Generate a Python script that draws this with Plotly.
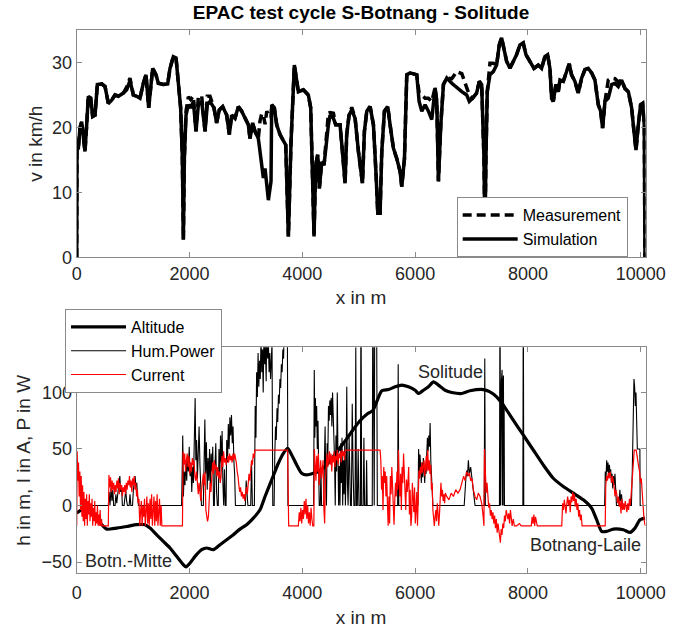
import plotly.graph_objects as go

# ---------------- top panel: speed ----------------
dist_v = [0, 5, 29, 58, 88, 118, 147, 177, 206, 248, 283, 325, 366, 443, 502, 561, 620, 679, 738, 827,
          886, 945, 1004, 1063, 1122, 1181, 1229, 1276, 1300, 1347, 1406, 1447, 1536, 1613, 1654, 1713,
          1761, 1802, 1843, 1873, 1891, 1909, 1938, 1980, 2021, 2068, 2115, 2157, 2216, 2275, 2316, 2363,
          2434, 2481, 2529, 2588, 2659, 2706, 2747, 2806, 2866, 2925, 2984, 3043, 3073, 3120, 3161, 3220,
          3250, 3280, 3309, 3339, 3370, 3398, 3445, 3457, 3504, 3546, 3605, 3664, 3706, 3753, 3800, 3859,
          3900, 3930, 4019, 4107, 4149, 4208, 4237, 4273, 4302, 4344, 4385, 4421, 4462, 4492, 4551, 4592,
          4669, 4711, 4758, 4787, 4829, 4877, 4936, 4995, 5066, 5101, 5143, 5202, 5261, 5308, 5338, 5379,
          5409, 5456, 5515, 5556, 5615, 5674, 5734, 5763, 5811, 5852, 5911, 6029, 6071, 6118, 6177, 6236,
          6295, 6354, 6384, 6413, 6455, 6502, 6561, 6650, 6738, 6827, 6914, 6961, 7020, 7091, 7138, 7180,
          7221, 7238, 7255, 7279, 7327, 7386, 7445, 7492, 7533, 7575, 7622, 7681, 7740, 7799, 7858, 7917,
          7965, 8036, 8107, 8183, 8242, 8301, 8349, 8390, 8420, 8449, 8496, 8538, 8568, 8627, 8686, 8733,
          8774, 8833, 8892, 8952, 9011, 9070, 9129, 9188, 9247, 9289, 9324, 9366, 9425, 9484, 9543, 9602,
          9661, 9720, 9780, 9839, 9880, 9916, 9957, 9998, 10034, 10063, 10075]

v_sim = [0, 16.5, 16.8, 19.9, 20.9, 18.9, 16.3, 20.4, 24.8, 24.5, 21.7, 21.9, 26.6, 26.7, 26.3, 23.7, 24.2, 25.0, 24.8, 25.3,
         25.8, 27.2, 25.0, 24.8, 24.5, 26.8, 28.1, 23.0, 25.5, 29.1, 28.1, 26.8, 26.6, 26.7, 29.1, 30.9,
         30.7, 26.6, 23.0, 15.3, 2.7, 15.3, 21.9, 23.5, 23.0, 24.0, 19.4, 23.5, 24.0, 19.4, 23.5, 24.0,
         23.0, 20.7, 22.7, 23.2, 21.9, 18.9, 21.9, 21.4, 23.2, 22.5, 21.4, 20.4, 18.3, 20.7, 19.4, 18.3,
         16.3, 13.7, 12.2, 13.7, 11.5, 8.8, 11.7, 23.5, 23.0, 20.4, 18.9, 17.8, 17.3, 3.2, 17.8, 29.6,
         27.6, 25.5, 25.8, 25.0, 23.0, 3.2, 14.2, 15.8, 10.6, 14.7, 14.2, 17.8, 20.4, 21.9, 21.4, 20.4,
         20.4, 16.3, 11.4, 18.9, 21.9, 22.7, 21.4, 16.3, 11.4, 19.4, 22.5, 23.2, 20.4, 12.7, 6.8, 6.8,
         16.3, 22.5, 23.2, 20.4, 16.8, 15.2, 13.2, 10.9, 15.2, 28.1, 28.4, 28.1, 24.0, 22.5, 23.5, 22.5,
         21.2, 26.1, 24.0, 11.7, 20.4, 26.6, 27.6, 26.8, 26.1, 25.5, 25.0, 24.0, 24.5, 25.3, 27.1, 26.6,
         15.2, 3.0, 15.0, 25.5, 28.1, 28.6, 29.6, 32.7, 33.8, 32.0, 30.2, 29.1, 30.2, 31.2, 32.7, 33.0,
         31.2, 30.2, 29.1, 29.6, 29.1, 30.9, 31.2, 29.1, 24.5, 24.0, 26.6, 25.5, 27.3, 27.1, 28.6, 29.8,
         28.1, 27.1, 25.3, 27.6, 28.9, 29.1, 28.4, 27.3, 23.5, 22.5, 19.9, 24.0, 24.5, 26.6, 26.8, 26.3,
         27.3, 26.0, 25.5, 23.0, 19.4, 16.5, 20.4, 23.5, 23.7, 20.4, 0]

v_meas = [0, 16.5, 16.8, 19.9, 20.9, 18.9, 16.3, 20.4, 24.8, 24.5, 21.7, 21.9, 26.6, 26.7, 26.3, 23.7, 24.2, 25.0, 24.8, 25.3,
          26.2, 27.6, 25.0, 24.8, 24.5, 26.8, 28.1, 23.0, 25.5, 29.1, 28.1, 26.8, 26.6, 26.7, 29.1, 30.9,
          30.7, 26.6, 23.0, 15.3, 2.7, 15.3, 22.5, 24.7, 24.3, 24.8, 19.4, 24.8, 24.8, 19.4, 24.8, 24.8,
          23.0, 20.7, 22.7, 23.2, 21.9, 18.9, 21.9, 21.4, 23.2, 22.5, 21.4, 20.4, 18.3, 20.7, 19.4, 18.3,
          21.0, 22.1, 22.0, 20.5, 22.5, 22.0, 21.5, 23.5, 23.0, 20.4, 18.9, 17.8, 17.3, 3.2, 17.8, 29.6,
          27.6, 25.5, 25.8, 25.0, 23.0, 3.2, 14.2, 15.8, 10.6, 14.7, 14.2, 17.8, 22.2, 22.3, 22.2, 20.4,
          20.4, 16.3, 11.4, 18.9, 21.9, 23.1, 21.4, 16.3, 11.4, 19.4, 22.5, 23.2, 20.4, 12.7, 6.8, 6.8,
          16.3, 22.5, 23.2, 20.4, 16.8, 15.2, 13.2, 10.9, 15.2, 28.1, 28.4, 28.1, 25.3, 25.0, 24.5, 24.5,
          24.0, 26.1, 24.0, 11.7, 20.4, 26.6, 27.6, 27.5, 28.6, 28.3, 26.0, 25.0, 24.5, 25.3, 27.1, 26.6,
          15.2, 3.0, 15.0, 25.5, 29.9, 29.9, 29.6, 32.7, 33.8, 32.0, 30.2, 29.1, 30.2, 31.2, 32.7, 33.0,
          31.2, 30.2, 29.1, 29.6, 29.1, 30.9, 31.2, 29.1, 24.5, 24.0, 26.6, 25.5, 27.3, 27.1, 28.6, 29.8,
          28.1, 27.1, 25.3, 27.6, 28.9, 29.1, 28.4, 27.3, 23.5, 22.5, 19.9, 24.0, 27.3, 27.6, 27.5, 27.0,
          27.3, 26.0, 25.5, 23.0, 19.4, 16.5, 20.4, 23.5, 23.7, 20.4, 0]

# ---------------- bottom panel ----------------
dist_h = [0, 88, 177, 266, 355, 443, 532, 709, 886, 1063, 1211, 1300, 1418, 1536, 1654, 1772, 1891, 1938,
          2009, 2098, 2216, 2305, 2423, 2541, 2659, 2777, 2895, 3013, 3132, 3250, 3339, 3457, 3575, 3664,
          3741, 3812, 3900, 3989, 4078, 4196, 4300, 4391, 4500, 4620, 4773, 4900, 5023, 5150, 5250, 5320,
          5409, 5527, 5645, 5763, 5882, 6000, 6059, 6147, 6236, 6325, 6413, 6532, 6650, 6827, 6973, 7209,
          7327, 7445, 7563, 7740, 7917, 8095, 8272, 8449, 8627, 8804, 8982, 9129, 9218, 9307, 9396, 9514,
          9692, 9810, 9898, 9987, 10076]
altitude = [-6.7, -3.9, -4.4, -6.7, -12.6, -17.0, -20.9, -20.0, -18.6, -17.0, -17.0, -20.0, -25.9, -31.8,
            -37.6, -45.0, -52.4, -54.4, -50.9, -45.0, -39.1, -37.6, -39.1, -34.7, -30.3, -25.9, -20.9,
            -17.0, -11.2, -3.8, 8.0, 22.7, 37.4, 46.2, 50.6, 44.7, 35.9, 28.5, 27.1, 28.5, 30.5, 34.0,
            40.0, 48.0, 58.0, 67.0, 75.0, 81.0, 84.0, 92.0, 101.5, 102.6, 105.0, 106.5, 105.0, 102.0,
            99.1, 102.0, 105.0, 109.4, 106.5, 102.0, 100.0, 99.1, 101.5, 102.6, 100.6, 96.2, 88.8, 75.6,
            62.4, 49.1, 35.9, 24.1, 16.8, 10.9, 5.0, -2.3, -12.6, -22.9, -22.9, -20.9, -21.5, -23.8,
            -20.0, -12.6, -11.2]

dist_p = [0, 560, 575, 590, 610, 625, 640, 655, 680, 695, 710, 730, 750, 765, 780, 795, 810, 840, 855, 870,
          885, 900, 930, 945, 960, 990, 1005, 1020, 1035, 1050, 1065, 1080, 1095,
          1860, 1880, 1892, 1905, 1920, 1935, 1950, 1965, 1980, 1995, 2010, 2025, 2040, 2055, 2070, 2085,
          2100, 2112, 2125, 2140, 2155, 2170, 2185, 2200, 2212, 2245, 2258, 2272, 2286, 2300, 2314, 2328,
          2342, 2356, 2370, 2384, 2398, 2412, 2426, 2440, 2452, 2466, 2480, 2494, 2510, 2522, 2536, 2550,
          2564, 2578, 2592, 2606, 2620, 2634, 2648, 2660, 2674, 2688, 2702, 2716, 2730, 2744, 2758, 2772,
          2786, 2800, 2814, 2990, 3005, 3020, 3035, 3085, 3100, 3115, 3150, 3165, 3178, 3190, 3203, 3216,
          3229, 3242, 3255, 3268, 3281, 3294, 3307, 3320, 3333, 3346, 3359, 3372, 3385, 3398, 3411, 3424,
          3437, 3450, 3463, 3476, 3500, 3512, 3525, 3538, 3551, 3564, 3577, 3590, 3603, 3616, 3629, 3642,
          3655, 3668, 3681, 3694, 3707, 3720, 3735, 3745,
          4200, 4212, 4222, 4232, 4242, 4254, 4266, 4278, 4290, 4300, 4318, 4330, 4342, 4380, 4392, 4404,
          4416, 4428, 4440, 4452, 4464, 4476, 4488, 4500, 4512, 4524, 4536, 4548, 4560, 4572, 4584, 4596,
          4608, 4620, 4632, 4644, 4656, 4668, 4680, 4692, 4704, 4716, 4728, 4740, 4752, 4764, 4776, 4788,
          4800, 4812, 4830, 4842, 4854, 4870, 4885, 4900, 4915, 4935, 4948, 4960, 4975, 4990, 5005, 5030,
          5040, 5052, 5080, 5092, 5104, 5130, 5140, 5150, 5240, 5250, 5262, 5275, 5285, 5300, 5315, 5330,
          5690, 5700, 5710,
          6050, 6062, 6074, 6086, 6098, 6110, 6122, 6134, 6146, 6158, 6170, 6182, 6194, 6206, 6218, 6230,
          6242, 6254, 6266, 6278, 6290, 6302, 6315,
          6870, 6885, 6900, 6914, 6929, 6944, 6962, 6985, 7009, 7032, 7062,
          7225, 7235, 7245,
          7495, 7505, 7515, 7530, 7536, 7542, 7548, 7554, 7560, 7566, 7572, 7578, 7584,
          7910, 7918, 7926,
          9360, 9372, 9384, 9396, 9408, 9420, 9432, 9444, 9456, 9468, 9480, 9492, 9504, 9516, 9528, 9543,
          9556, 9570, 9615, 9630, 9645, 9660, 9675,
          9835, 9850, 9865, 9880, 9892, 9904, 9916, 9928, 9940, 9985, 9990, 10085]
hum_power = [0, 0, 12, 0, 16, 4, 14, 0, 0, 10, 2, 15, 20, 26, 12, 18, 0, 0, 9, 14,
             4, 0, 0, 10, 0, 0, 14, 22, 26, 16, 20, 8, 0,
             0, 62, 8, 30, 18, 40, 22, 44, 30, 52, 26, 38, 12, 34, 20, 48,
             95, 40, 58, 24, 48, 70, 36, 20, 0, 0, 48, 76, 28, 56, 14, 42,
             22, 50, 18, 46, 30, 52, 0, 0, 36, 55, 12, 0, 0, 50, 24, 62,
             38, 66, 20, 0, 32, 0, 0, 58, 38, 72, 50, 78, 62, 80, 55, 70,
             40, 28, 0, 0, 22, 8, 0, 0, 38, 0, 0, 88, 60, 118, 96, 135,
             105, 128, 112, 150, 118, 138, 100, 160, 125, 142, 110, 170, 130, 146, 118, 135,
             112, 128, 145, 0, 0, 45, 70, 58, 86, 74, 98, 90, 112, 104, 125, 118,
             138, 130, 160, 145, 200, 150, 160, 0,
             0, 120, 60, 95, 70, 88, 50, 75, 20, 0, 0, 30, 0, 0, 40, 70,
             20, 0, 55, 40, 88, 75, 93, 80, 95, 70, 100, 85, 60, 40, 0, 62,
             30, 100, 45, 0, 35, 0, 55, 20, 60, 0, 40, 10, 55, 0, 30, 105,
             20, 0, 60, 10, 0, 0, 90, 30, 0, 0, 140, 0, 0, 50, 0, 0,
             200, 0, 0, 60, 0, 0, 40, 0, 0, 200, 0, 0, 200, 160, 200, 0,
             0, 125, 0,
             0, 50, 30, 45, 35, 20, 38, 25, 42, 30, 20, 35, 28, 45, 60, 48,
             62, 52, 73, 40, 30, 15, 0,
             0, 17, 24, 31, 26, 40, 28, 34, 23, 11, 0,
             0, 130, 0,
             0, 200, 0, 110, 0, 120, 0, 105, 0, 115, 0, 90, 0,
             0, 200, 0,
             0, 30, 22, 40, 30, 38, 25, 36, 28, 32, 20, 28, 15, 26, 18, 28,
             12, 0, 0, 14, 4, 10, 0,
             0, 30, 80, 112, 105, 88, 100, 60, 50, 50, 0, 0]

dist_i = [0, 8, 20, 32, 44, 56, 68, 80, 92, 104, 116, 128, 140, 152, 164, 176, 188, 200, 212, 224, 236, 248,
          260, 272, 284, 296, 308, 320, 332, 344, 356, 368, 380, 392, 404, 416, 428, 440, 452, 560, 572, 586,
          600, 614, 628, 642, 656, 670, 684, 698, 712, 726, 740, 754, 768, 782, 796, 810, 824, 838, 852, 866,
          880, 894, 908, 922, 936, 950, 964, 978, 992, 1006, 1020, 1034, 1048, 1062, 1076, 1090, 1104, 1118,
          1132, 1146, 1160, 1174, 1188, 1202, 1216, 1230, 1244, 1258, 1272, 1286, 1300, 1314, 1328, 1342,
          1356, 1370, 1384, 1398, 1412, 1426, 1440, 1454, 1468, 1482, 1496, 1510, 1875,
          1885, 1900, 1915, 1930, 1945, 1960, 1975, 1990, 2005, 2020, 2035, 2050, 2065, 2080, 2095, 2110,
          2125, 2140, 2155, 2170, 2185, 2200, 2215, 2230, 2245, 2260, 2275, 2290, 2305, 2320, 2335, 2350,
          2365, 2380, 2395, 2410, 2425, 2440, 2455, 2470, 2485, 2500, 2515, 2530, 2545, 2560, 2575, 2590,
          2605, 2620, 2635, 2650, 2665, 2680, 2695, 2710, 2725, 2740, 2755, 2770, 2785, 2800, 2815, 2830,
          2845, 2860, 2875, 2890, 2905, 2920, 2935, 2950, 2965, 2980, 2995, 3010, 3025, 3040, 3055, 3070,
          3085, 3100, 3115, 3130, 3145, 3160, 3740, 3752, 3758, 3930, 3945, 3960, 3975, 3990, 4005, 4020,
          4035, 4050, 4065, 4080, 4095, 4110, 4125, 4140, 4155, 4170, 4185, 4205, 4214, 4228, 4242, 4256,
          4270, 4284, 4298, 4312, 4326, 4340, 4354, 4368, 4382, 4396, 4410, 4424, 4438, 4452, 4466, 4480,
          4494, 4508, 4522, 4536, 4550, 4564, 4578, 4592, 4606, 4620, 4634, 4648, 4662, 4676, 4690, 4704,
          4718, 4732, 4746, 4760, 5379, 5392, 5405, 5418, 5431, 5444, 5457, 5470, 5483, 5496, 5509, 5522,
          5535, 5548, 5561, 5574, 5587, 5600, 5613, 5626, 5639, 5652, 5665, 5678, 5691, 5704, 5717, 5730,
          5743, 5756, 5769, 5782, 5795, 5808, 5821, 5834, 5847, 5860, 5873, 5886, 5899, 5912, 5925, 5938,
          5951, 5964, 5977, 5990, 6003, 6016, 6029, 6042, 6055, 6068, 6081, 6094, 6107, 6120, 6133, 6146,
          6159, 6172, 6185, 6198, 6211, 6224, 6237, 6250, 6263, 6276, 6289, 6302, 6315, 6328, 6341, 6354,
          6367, 6380, 6393, 6406, 6419, 6432, 6445, 6458, 6471, 6484, 6497, 6510, 6523, 6536, 6560, 6600,
          6640, 6680, 6720, 6760, 6797, 6830, 6860, 6885, 6914, 6944, 6962, 6985, 7009, 7032, 7062, 7091,
          7120, 7151, 7180, 7205, 7220, 7230, 7245, 7260, 7275, 7290, 7305, 7320, 7335, 7350, 7365, 7380,
          7395, 7410, 7425, 7440, 7455, 7470, 7485, 7500, 7512, 7525, 7540, 7555, 7570, 7585, 7600, 7615,
          7630, 7645, 7660, 7675, 7690, 7705, 7720, 7740, 7760, 7800, 7850, 7880, 7950, 8060, 8075, 8090,
          8105, 8120, 8135, 8150, 8165, 8600, 8615, 8630, 8645, 8660, 8675, 8690, 8705, 8720, 8735, 8750,
          8765, 8780, 8795, 8810, 8825, 8840, 8855, 8870, 8885, 8900, 8915, 8930, 8945, 8960, 9370, 9380,
          9395, 9410, 9425, 9440, 9455, 9470, 9485, 9500, 9515, 9530, 9543, 9560, 9575, 9590, 9605, 9620,
          9635, 9650, 9665, 9680, 9695, 9710, 9725, 9740, 9755, 9770, 9785, 9800, 9815, 9830, 9845, 9858,
          9870, 9885, 9920, 9935, 9950, 9965, 9980, 9995, 10010, 10025, 10040, 10055, 10070, 10085]
current = [-18, 48, 22, 38, 8, 30, -4, 26, -10, 18, -14, 12, -18, 6, -12, 10, -18, 4, -8, 10, -14, 2,
           -10, 6, -18, -2, -14, 4, -18, -6, -16, 0, -18, -8, -18, -4, -18, -12, -18, -18, 27, 16,
           25, 12, 22, 14, 20, 10, 18, 12, 22, 15, 24, 10, 20, 14, 18, 8, 16, 12, 18, 10,
           20, 14, 22, 18, 26, 16, 22, 12, 24, 18, 26, 14, 20, 8, 14, 2, 6, -18,
           -6, 4, -18, 0, -10, 6, -18, -4, 8, -16, 2, -18, 6, -12, 10, -18,
           -2, 8, -18, 4, -14, 10, -18, -6, 6, -18, 0, -18, -18,
           48, 36, 46, 30, 40, 46, 34, 44, 28, 38, 30, 42, 36, 40, 26, 22,
           30, 14, 10, 20, 6, 4, 14, 20, 28, 18, 30, -4, -8, -14, -10, 10,
           20, 12, 30, 38, 28, 40, 32, 36, 26, 34, 24, 30, 20, 26, 44, 34,
           48, 38, 42, 36, 40, 44, 38, 46, 40, 44, 38, 46, 40, 46, 42, 38,
           30, 26, 18, 12, 16, 8, 12, 6, 10, 4, 12, 16, 10, 20, 28, 22,
           34, 40, 36, 46, 42, 49, 49, 0, -18, -18, -6, -14, -2, -16, -4, -12,
           4, -8, 6, -12, 0, -16, -6, -18, -2, -12, -18, -18, 50, 36, 22, 44,
           30, 46, 18, 28, 40, 24, 34, 40, -2, -16, 22, 36, 46, 34, 42, 48,
           36, 46, 30, 44, 38, 48, 34, 44, 40, 49, 36, 46, 42, 48, 38, 49,
           44, 48, 40, 49, 49, 40, 14, 26, -4, 34, 20, 30, 8, 26, 2, -18,
           8, -16, 26, 10, 34, 18, -8, -17, 4, 20, 8, 30, 14, 49, 20, 8,
           28, -4, 34, 20, 46, 30, 8, -4, 23, 12, 20, 34, -8, 14, -18, -10,
           20, 8, -6, 16, -16, -4, 12, -18, 4, 31, 24, 34, 28, 38, 29, 34,
           40, 26, 36, 44, 30, 49, 31, 40, 28, 36, 14, 20, -4, -12, -18, -10,
           -4, -14, 2, -6, -18, -8, 10, 20, 8, 14, 4, 10, 2, 11, 8, 5,
           11, 8, 14, 11, 14, 20, 26, 22, 30, 26, 29, 22, 24, 14, 8, 5,
           11, 8, 2, -9, -18, 50, 26, 11, 20, 6, -2, 2, -9, -4, -12, -6,
           -16, -9, -20, -12, -24, -16, -22, -30, -33, -21, -26, -16, -20, -9, -14, -4,
           -9, -12, -7, -16, -4, -10, -18, -12, -18, -18, -16, -18, -18, -18, -10, -16,
           -8, -18, -10, -14, -18, -18, 2, -4, 5, -1, -7, 2, 8, 0, 5, -6,
           8, 3, 12, 4, 10, -1, 6, -4, 2, -10, -4, -13, -8, -18, -18, 17,
           26, 22, 29, 24, 30, 26, 20, 26, 22, 16, 8, 14, 10, 2, 8, -1,
           4, -7, 6, -4, 2, -4, 4, 0, -6, 2, -4, 6, 0, 10, 20, 34,
           43, 49, 49, 42, 40, 34, 30, 20, 24, 10, -2, -10, -16, -18]

x_ticks = [0, 2000, 4000, 6000, 8000, 10000]
x_tick_text = ["0", "2000", "4000", "6000", "8000", "10000"]
v_ticks = [0, 10, 20, 30]
h_ticks = [-50, 0, 50, 100]

FONT = "Liberation Sans, Arial, sans-serif"
TXT = "#262626"
AX = "#8a8a8a"

fig = go.Figure()
fig.add_trace(go.Scatter(x=dist_v, y=v_meas, mode="lines", name="Measurement",
                         line=dict(color="black", width=3.5, dash="9px,5px"),
                         xaxis="x", yaxis="y", legend="legend"))
fig.add_trace(go.Scatter(x=dist_v, y=v_sim, mode="lines", name="Simulation",
                         line=dict(color="black", width=3.5),
                         xaxis="x", yaxis="y", legend="legend"))
fig.add_trace(go.Scatter(x=dist_h, y=altitude, mode="lines", name="Altitude",
                         line=dict(color="black", width=3.2, shape="spline", smoothing=0.6),
                         xaxis="x2", yaxis="y2", legend="legend2"))
fig.add_trace(go.Scatter(x=dist_p, y=hum_power, mode="lines", name="Hum.Power",
                         line=dict(color="black", width=1.1),
                         xaxis="x2", yaxis="y2", legend="legend2"))
fig.add_trace(go.Scatter(x=dist_i, y=current, mode="lines", name="Current",
                         line=dict(color="#ff0000", width=1.2),
                         xaxis="x2", yaxis="y2", legend="legend2"))

axis_common = dict(showline=True, linecolor=AX, linewidth=1, mirror="ticks",
                   ticks="inside", ticklen=5, tickcolor=AX, showgrid=False, zeroline=False,
                   automargin=False,
                   tickfont=dict(family=FONT, size=18, color=TXT))

fig.update_layout(
    width=680, height=628,
    margin=dict(l=0, r=0, t=0, b=0, autoexpand=False),
    paper_bgcolor="white", plot_bgcolor="white",
    font=dict(family=FONT, color=TXT),
    title=dict(text="<b>EPAC test cycle S-Botnang - Solitude</b>", x=0.531, xanchor="center",
               y=0.981, yanchor="middle", font=dict(family=FONT, size=19, color="black")),
    xaxis=dict(domain=[0.1128, 0.9493], range=[0, 10085], tickvals=x_ticks, ticktext=x_tick_text,
               anchor="y",
               title=dict(text="x in m", font=dict(size=19, family=FONT, color=TXT), standoff=7),
               **axis_common),
    yaxis=dict(domain=[0.5903, 0.9522], range=[0, 35], tickvals=v_ticks, anchor="x",
               title=dict(text="v in km/h", font=dict(size=19, family=FONT, color=TXT), standoff=4),
               **axis_common),
    xaxis2=dict(domain=[0.1128, 0.9493], range=[0, 10085], tickvals=x_ticks, ticktext=x_tick_text,
                anchor="y2", ticklabelstandoff=3,
                title=dict(text="x in m", font=dict(size=19, family=FONT, color=TXT), standoff=14),
                **axis_common),
    yaxis2=dict(domain=[0.0871, 0.4470], range=[-60, 140], tickvals=h_ticks, anchor="x2",
                title=dict(text="h in m, I in A, P in W", font=dict(size=19, family=FONT, color=TXT), standoff=5),
                **axis_common),
    legend=dict(x=0.6716, y=0.6860, xanchor="left", yanchor="top", bgcolor="white",
                bordercolor=AX, borderwidth=1, font=dict(family=FONT, size=16, color="black"),
                itemwidth=55, tracegroupgap=0),
    legend2=dict(x=0.0956, y=0.508, xanchor="left", yanchor="top", bgcolor="white",
                 bordercolor=AX, borderwidth=1, font=dict(family=FONT, size=16, color="black"),
                 itemwidth=55, tracegroupgap=0),
    showlegend=True,
    annotations=[
        dict(x=117, y=-49.4, xref="x2", yref="y2", text="Botn.-Mitte", showarrow=False,
             xanchor="left", yanchor="middle", font=dict(family=FONT, size=18, color=TXT)),
        dict(x=6017, y=118, xref="x2", yref="y2", text="Solitude", showarrow=False,
             xanchor="left", yanchor="middle", font=dict(family=FONT, size=18, color=TXT)),
        dict(x=8007, y=-34.7, xref="x2", yref="y2", text="Botnang-Laile", showarrow=False,
             xanchor="left", yanchor="middle", font=dict(family=FONT, size=18, color=TXT)),
    ],
)

# remove the browser's default 8px body margin so the 680x628 figure fills the window exactly
fig.write_html("out.html",
               config={"displayModeBar": False},
               post_script="document.body.style.margin='0';document.body.style.overflow='hidden';")
